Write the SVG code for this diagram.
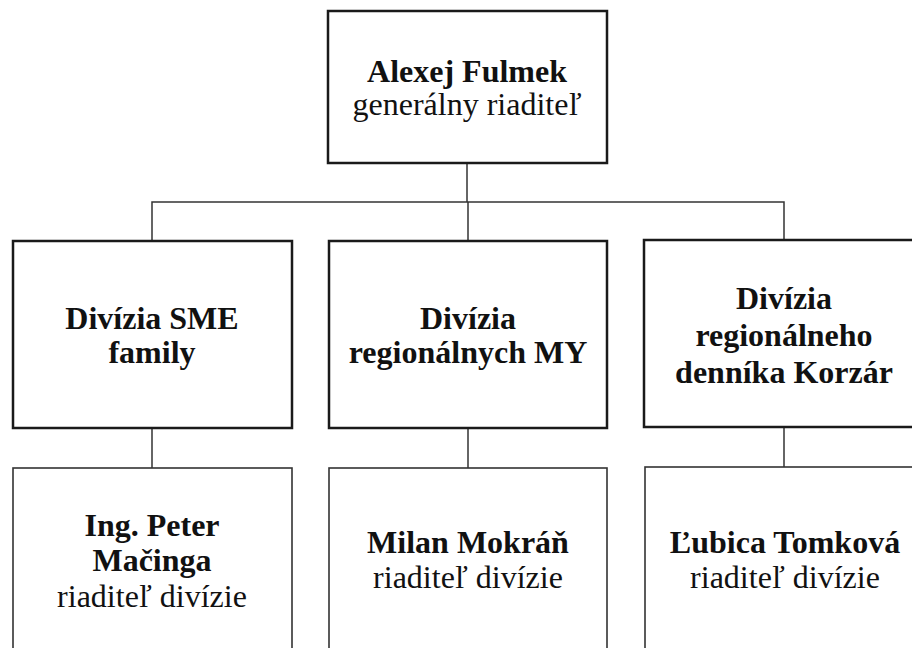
<svg xmlns="http://www.w3.org/2000/svg" width="912" height="648" viewBox="0 0 912 648">
<style>
.box{fill:#fff;stroke:#1a1a1a;stroke-width:2.5}
.box2{fill:#fff;stroke:#333;stroke-width:1.6}
.conn{fill:none;stroke:#333;stroke-width:1.5}
text{font-family:"Liberation Serif","Times New Roman",serif;font-size:32px;fill:#111;text-anchor:middle}
.b{font-weight:bold}
</style>
<rect width="912" height="648" fill="#fff"/>
<g id="connectors">
<line class="conn" x1="467" y1="163" x2="467" y2="202"/>
<polyline class="conn" points="152,241 152,202 784,202 784,240"/>
<line class="conn" x1="468" y1="202" x2="468" y2="241"/>
<line class="conn" x1="152" y1="428" x2="152" y2="468"/>
<line class="conn" x1="468" y1="428" x2="468" y2="468"/>
<line class="conn" x1="784" y1="427" x2="784" y2="467"/>
</g>
<g id="ceo">
<rect class="box" x="328" y="11" width="279" height="152"/>
<text x="467" y="82" class="b">Alexej Fulmek</text>
<text x="467" y="115">generálny riaditeľ</text>
</g>
<g id="div-sme">
<rect class="box" x="13" y="241" width="279" height="187"/>
<text x="152" y="329" class="b">Divízia SME</text>
<text x="152" y="363" class="b">family</text>
</g>
<g id="div-my">
<rect class="box" x="329" y="241" width="278" height="187"/>
<text x="468" y="329" class="b">Divízia</text>
<text x="468" y="363" class="b">regionálnych MY</text>
</g>
<g id="div-korzar">
<rect class="box" x="644" y="240" width="280" height="187"/>
<text x="784" y="309" class="b">Divízia</text>
<text x="784" y="346" class="b">regionálneho</text>
<text x="784" y="383" class="b">denníka Korzár</text>
</g>
<g id="macinga">
<rect class="box2" x="13" y="468" width="279" height="200"/>
<text x="152" y="536" class="b">Ing. Peter</text>
<text x="152" y="571" class="b">Mačinga</text>
<text x="152" y="607">riaditeľ divízie</text>
</g>
<g id="mokran">
<rect class="box2" x="329" y="468" width="278" height="200"/>
<text x="468" y="553" class="b">Milan Mokráň</text>
<text x="468" y="588">riaditeľ divízie</text>
</g>
<g id="tomkova">
<rect class="box2" x="645" y="467" width="280" height="200"/>
<text x="785" y="553" class="b">Ľubica Tomková</text>
<text x="785" y="588">riaditeľ divízie</text>
</g>
</svg>
